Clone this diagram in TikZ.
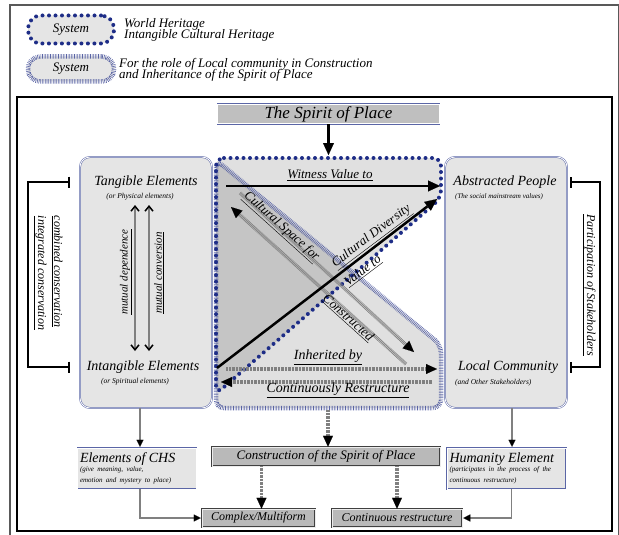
\documentclass[tikz,border=0pt]{standalone}
\usepackage{fontspec}
\setmainfont{Liberation Serif}
\usetikzlibrary{arrows.meta}
\definecolor{bordblue}{HTML}{5B66A6}
\definecolor{dotblue}{HTML}{1E2D87}
\definecolor{hashblue}{HTML}{5A64A4}
\newcommand{\fs}[1]{\fontsize{#1}{#1}\selectfont}
\begin{document}
\begin{tikzpicture}
  [x=1pt,y=-1pt,
  every node/.style={font=\itshape,inner sep=0pt},
  bigbox/.style={draw=bordblue,line width=0.5pt,double=white,double distance=0.8pt,fill=gray!20,rounded corners=10pt},
  smallbox/.style={draw=bordblue,line width=0.5pt,double=white,double distance=0.8pt,fill=gray!20,inner sep=2pt,align=left},
  greybox/.style={draw=black!75,line width=0.5pt,double=gray!15,double distance=1pt,fill=gray!55},
  dots/.style={draw=dotblue,line width=4pt,line cap=round,dash pattern=on 0pt off 6.5pt},
  hash/.style={draw=hashblue,line width=4.5pt,dash pattern=on 0.6pt off 1pt},
  stripe/.style={draw=gray,line width=3.5pt,dash pattern=on 0.7pt off 0.7pt,-{Triangle[color=black,length=11pt,width=10pt,line width=0.1pt]}},
  blk/.style={draw=black,line width=2.5pt,-{Triangle[length=12pt,width=11pt,line width=0.1pt]}},
  thin/.style={draw=gray,line width=1.2pt,-{Triangle[color=black,length=7pt,width=7pt,line width=0.1pt]},shorten >=1pt},
  brk/.style={draw=black,line width=2pt,{Bar[width=11pt]}-{Bar[width=11pt]}},
  dbl/.style={draw=gray,line width=1.5pt,{Straight Barb[color=black,length=5pt,width=8pt,line width=1.5pt]}-{Straight Barb[color=black,length=5pt,width=8pt,line width=1.5pt]}}]
  \useasboundingbox (0,0) rectangle (619,535);
  % frames
  \draw[line width=1.5pt,black!65] (10,5) rectangle (619,545);
  \draw[line width=1.5pt] (17,97) rectangle (612,531);

  % legend
  \node[dots,fill=gray!20,rounded corners=13pt,minimum width=86,minimum height=28] (legwh) at (71,29.5) {\fs{13}System};
  \node[anchor=west,align=left] (legwhtxt) at (124,30) {\fs{13}World Heritage\\[-1pt]\fs{13}Intangible Cultural Heritage};
  \node[hash,fill=gray!20,rounded corners=12pt,minimum width=86,minimum height=25] (leglc) at (71,69) {\fs{13}System};
  \node[anchor=west,align=left] (leglctxt) at (119,70) {\fs{13}For the role of Local community in Construction\\[-1pt]\fs{13}and Inheritance of the Spirit of Place};

  % top
  \node[smallbox,fill=gray!50,minimum width=222,minimum height=19,align=center] (spirit) at (328.5,114) {\fs{17}The Spirit of Place};

  % side boxes
  \node[bigbox,minimum width=132,minimum height=251] (leftbox) at (146,282.5) {};
  \node[bigbox,minimum width=122,minimum height=251] (rightbox) at (506,282.5) {};
  \node (tang) at (146,182) {\fs{14}Tangible Elements};
  \node (tangsub) at (140,197) {\fs{7.5}(or Physical elements)};
  \node (intang) at (143,367) {\fs{14}Intangible Elements};
  \node (intangsub) at (135,382) {\fs{7.5}(or Spiritual elements)};
  \node (abs) at (505,182) {\fs{14}Abstracted People};
  \node[anchor=west] (abssub) at (455,197) {\fs{7}(The social mainstream values)};
  \node (loc) at (508,367) {\fs{14}Local Community};
  \node[anchor=west] (locsub) at (455,383) {\fs{7.5}(and Other Stakeholders)};

  % mutual arrows
  \coordinate (mt1) at (135,205);
  \coordinate (mt2) at (149,205);
  \draw[dbl] (mt1) -- (mt1 |- 0,351);
  \draw[dbl] (mt2) -- (mt2 |- 0,351);
  \node[rotate=90] at (126,272) {\fs{11}\underline{mutual dependence}};
  \node[rotate=90] at (159,273) {\fs{11}\underline{mutual conversion}};

  % brackets
  \draw[brk] ([xshift=-10]leftbox.west |- tang) -- ++(-42,0) |- ([xshift=-10]leftbox.west |- intang);
  \node[rotate=-90,align=left] at (48,273) {\fs{12}\underline{combined conservation}\\[4pt]\fs{12}\underline{integrated conservation}};
  \draw[brk] ([xshift=3]rightbox.east |- abs) -- ++(30,0) |- ([xshift=3]rightbox.east |- loc);
  \node[rotate=-90] at (589,285) {\fs{12}\underline{Participation of Stakeholders}};

  % centre
  \path[fill=black,fill opacity=0.12,rounded corners=8pt] (216,158) -- (441,158) -- (441,198) -- (216,394) -- cycle;
  \path[fill=black,fill opacity=0.12,rounded corners=8pt] (216,160) -- (441,345) -- (441,408) -- (216,408) -- cycle;
  \draw[hash,rounded corners=8pt] (216,160) -- (441,345) -- (441,408) -- (216,408) -- cycle;
  \draw[dots,rounded corners=8pt] (216,158) -- (441,158) -- (441,198) -- (216,394) -- cycle;
  \coordinate (ctop) at (328,155);
  \coordinate (cbot) at (328,410);
  \draw[blk] (spirit.south) -- (spirit.south |- ctop);

  \coordinate (wv1) at (226,186);
  \coordinate (wv2) at (440,186);
  \draw[blk] (wv1) -- (wv2);
  \node at (330,175) {\fs{13}\underline{Witness Value to}};

  \coordinate (cd1) at (217,368);
  \coordinate (cd2) at (437,199);
  \coordinate (cs1) at (240,193);
  \coordinate (cs2) at (414,352);
  \coordinate (cs3) at (406,364);
  \coordinate (cs4) at (231,207);
  \draw[stripe] (cs1) -- (cs2);
  \draw[stripe] (cs3) -- (cs4);
  \draw[blk] (cd1) -- (cd2);
  \node[rotate=-42] at (281,227) {\fs{13}\underline{Cultural Space for}};
  \node[rotate=-42] at (348,318) {\fs{13}\underline{Constructed}};
  \node[rotate=37] at (372,237) {\fs{13}\underline{Cultural Diversity}};
  \node[rotate=37] at (363,271) {\fs{13}\underline{Value to}};

  \coordinate (ih1) at (226,369);
  \coordinate (ih2) at (437,369);
  \coordinate (cr1) at (432,382);
  \coordinate (cr2) at (221,382);
  \draw[stripe] (ih1) -- (ih2);
  \draw[stripe] (cr1) -- (cr2);
  \node at (328,357) {\fs{14}\underline{Inherited by}};
  \node at (338,390) {\fs{14}\underline{Continuously Restructure}};

  % bottom
  \node[smallbox,minimum width=119,minimum height=41,text width=114pt] (chs) at (137,468.5) {\fs{14}Elements of CHS\\[0pt]\fs{7}(give meaning, value,\\[-1pt]\fs{7}emotion and mystery to place)};
  \node[smallbox,minimum width=119,minimum height=41,text width=114pt] (hum) at (506.5,468.5) {\fs{14}Humanity Element\\[0pt]\fs{7}(participates in the process of the\\[-1pt]\fs{7}continuous restructure)};
  \node[greybox,minimum width=228,minimum height=19] (constr) at (326,456.5) {\fs{13}Construction of the Spirit of Place};
  \node[greybox,minimum width=113,minimum height=18] (cmplx) at (258.5,518) {\fs{12}Complex/Multiform};
  \node[greybox,minimum width=130,minimum height=18] (contr) at (397,518) {\fs{12}Continuous restructure};

  \draw[thin] ([xshift=-6]leftbox.south) -- ([xshift=-6]leftbox.south |- chs.north);
  \draw[thin] ([xshift=6]rightbox.south) -- ([xshift=6]rightbox.south |- hum.north);
  \draw[thin] ([xshift=3]chs.south) |- (cmplx.west);
  \draw[thin] ([xshift=5]hum.south) |- (contr.east);
  \draw[stripe] (cbot) -- (cbot |- constr.north);
  \draw[stripe] ([xshift=3]cmplx.north |- constr.south) -- ([xshift=3]cmplx.north);
  \draw[stripe] (contr.north |- constr.south) -- (contr.north);
\end{tikzpicture}
\end{document}
